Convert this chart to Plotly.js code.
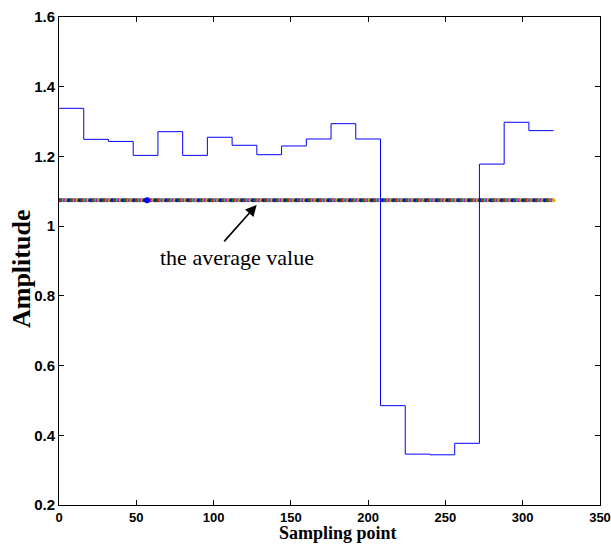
<!DOCTYPE html>
<html>
<head>
<meta charset="utf-8">
<script src="https://cdn.plot.ly/plotly-3.0.1.min.js"></script>
<style>
  html, body { margin: 0; padding: 0; background: #ffffff; }
  #chart { width: 611px; height: 544px; }
  #chart .xtick text, #chart .ytick text { font-weight: 700 !important; }
</style>
</head>
<body>
<div id="chart"></div>
<script>
// Step boundaries (sampling point) and segment amplitudes
const stepX = [0, 16, 32, 48, 64, 80, 96, 112, 128, 144, 160, 176, 192, 208, 224, 240, 256, 272, 288, 304, 320];
const stepY = [1.338, 1.249, 1.243, 1.203, 1.271, 1.203, 1.255, 1.232, 1.205, 1.230,
               1.250, 1.294, 1.250, 0.485, 0.346, 0.344, 0.377, 1.178, 1.298, 1.274, 1.274];

// Average value line
const avgValue = 1.074;
const avgStart = 0;
const avgEnd = 320;
const highlightX = [57];

const xTicks = [0, 50, 100, 150, 200, 250, 300, 350];
const xTickText = ['0', '50', '100', '150', '200', '250', '300', '350'];
const yTicks = [0.2, 0.4, 0.6, 0.8, 1, 1.2, 1.4, 1.6];
const yTickText = ['0.2', '0.4', '0.6', '0.8', '1', '1.2', '1.4', '1.6'];

const markerColors = ['#0000ff', '#008000', '#ff0000', '#00bfbf', '#bf00bf', '#bfbf00', '#404040'];

const avgX = [];
const avgY = [];
const avgC = [];
for (let i = avgStart; i <= avgEnd; i++) {
  avgX.push(i);
  avgY.push(avgValue);
  avgC.push(markerColors[i % markerColors.length]);
}

const traces = [
  {
    x: avgX, y: avgY, type: 'scatter', mode: 'markers',
    marker: { color: avgC, size: 4, line: { width: 0 } },
    hoverinfo: 'skip', showlegend: false
  },
  {
    x: highlightX, y: highlightX.map(() => avgValue), type: 'scatter', mode: 'markers',
    marker: { color: '#0000ff', size: 6 },
    hoverinfo: 'skip', showlegend: false
  },
  {
    x: stepX, y: stepY, type: 'scatter', mode: 'lines',
    line: { color: '#0000ff', width: 1, shape: 'hv' },
    showlegend: false
  }
];

const sans = 'Liberation Sans, Arial, sans-serif';
const serif = 'Liberation Serif, Times New Roman, serif';

const layout = {
  width: 611, height: 544,
  margin: { l: 59, r: 11, t: 17, b: 39 },
  paper_bgcolor: '#ffffff', plot_bgcolor: '#ffffff',
  showlegend: false,
  xaxis: {
    range: [0, 350], tickvals: xTicks, ticktext: xTickText,
    ticks: 'inside', ticklen: 5, tickcolor: '#000000', tickwidth: 1,
    showline: true, linecolor: '#000000', linewidth: 1, mirror: 'ticks',
    showgrid: false, zeroline: false,
    tickfont: { family: sans, size: 13, color: '#000000', weight: 700 }
  },
  yaxis: {
    range: [0.2, 1.6], tickvals: yTicks, ticktext: yTickText,
    ticks: 'inside', ticklen: 5, tickcolor: '#000000', tickwidth: 1,
    showline: true, linecolor: '#000000', linewidth: 1, mirror: 'ticks',
    showgrid: false, zeroline: false,
    tickfont: { family: sans, size: 15, color: '#000000', weight: 700 }
  },
  annotations: [
    {
      x: 127.9, y: 1.061, xref: 'x', yref: 'y',
      ax: 106, ay: 0.952, axref: 'x', ayref: 'y',
      text: '', showarrow: true, arrowhead: 2, arrowsize: 1.4, arrowwidth: 1.6, arrowcolor: '#000000'
    },
    {
      x: 115, y: 0.91, xref: 'x', yref: 'y',
      text: 'the average value', showarrow: false,
      font: { family: serif, size: 22, color: '#000000' },
      xanchor: 'center', yanchor: 'middle'
    },
    {
      x: 0.515, y: -0.0799, xref: 'paper', yref: 'paper',
      text: '<b>Sampling point</b>', showarrow: false,
      font: { family: serif, size: 18, color: '#000000' },
      xanchor: 'center', yanchor: 'bottom', borderpad: 0
    },
    {
      x: -0.068, y: 0.484, xref: 'paper', yref: 'paper',
      text: '<b>Amplitude</b>', showarrow: false, textangle: -90,
      font: { family: serif, size: 26, color: '#000000' },
      xanchor: 'center', yanchor: 'middle'
    }
  ]
};

Plotly.newPlot('chart', traces, layout, { displayModeBar: false, staticPlot: true });
</script>
</body>
</html>
